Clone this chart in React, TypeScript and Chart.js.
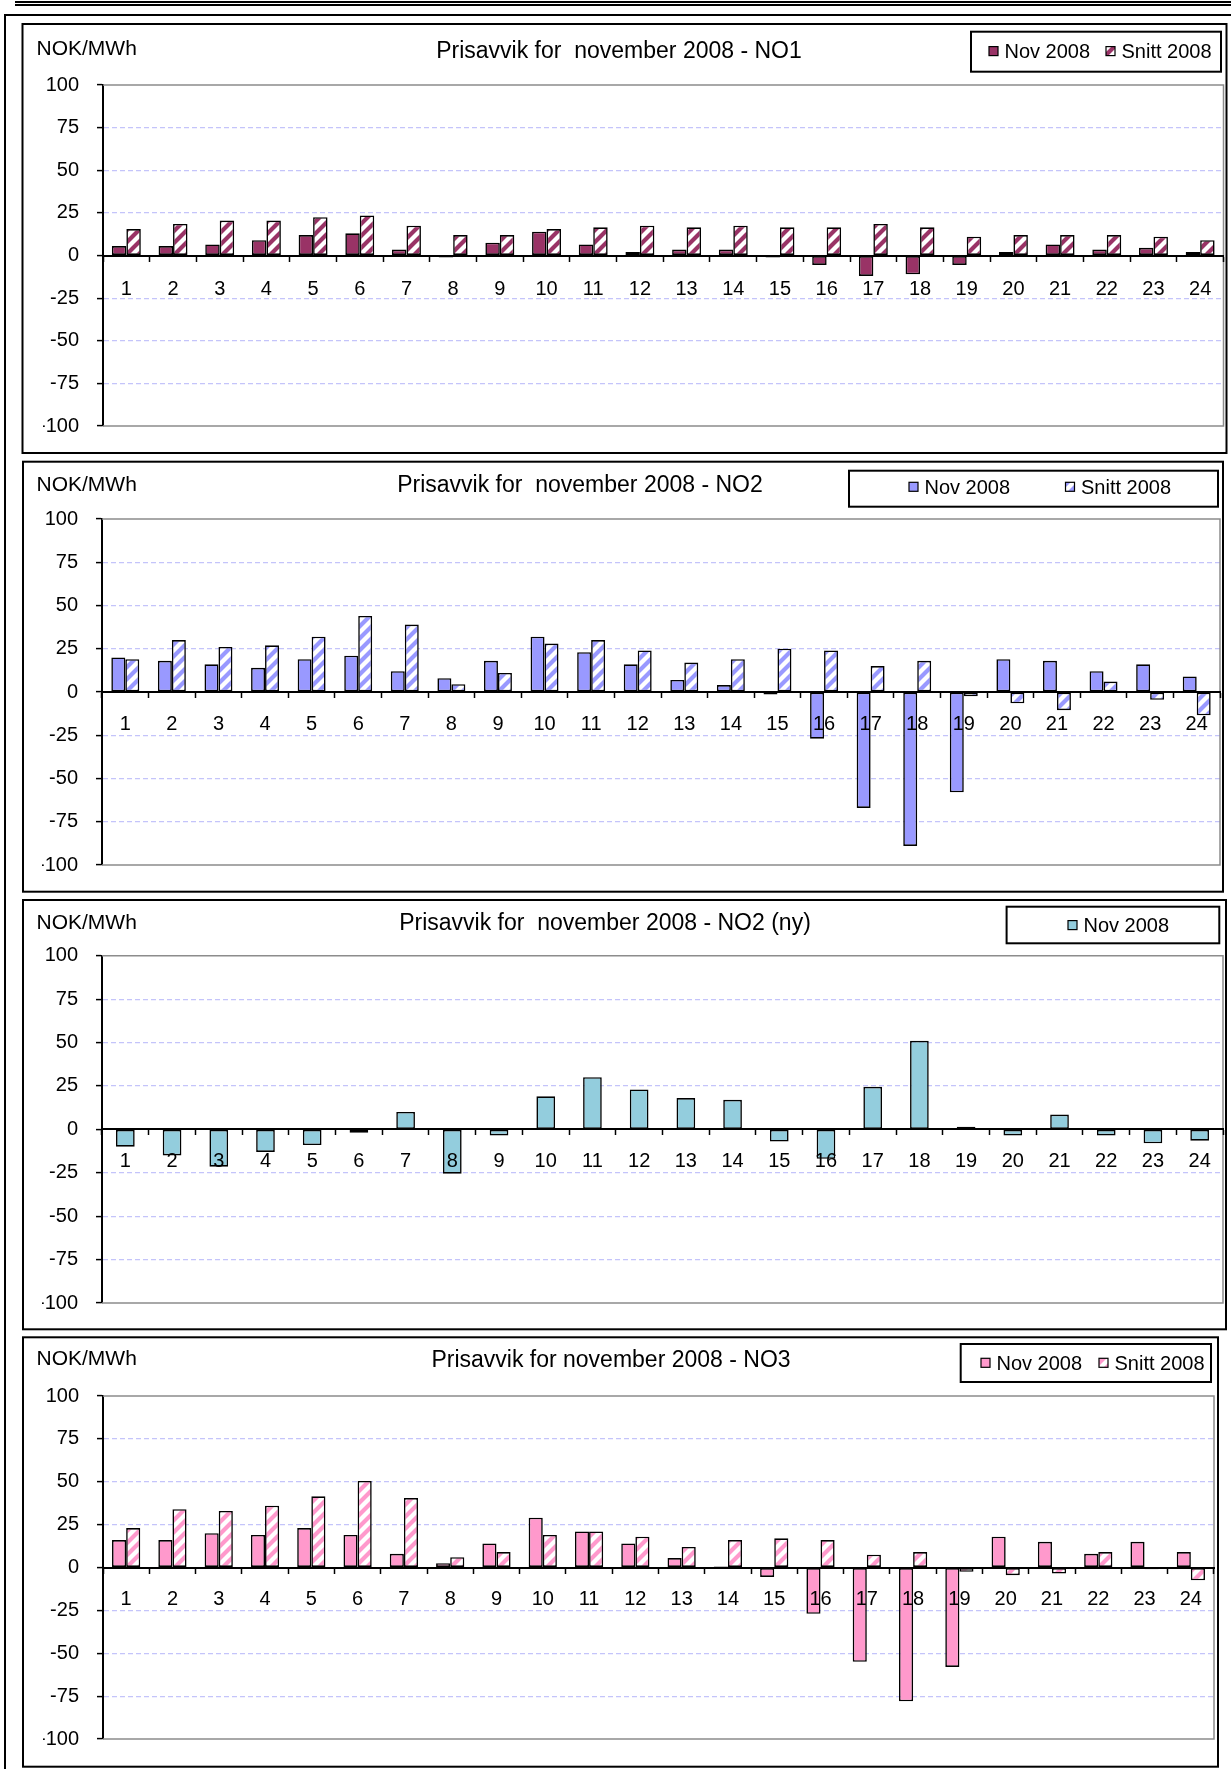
import React, { useEffect, useRef } from 'react';
import { Chart, registerables } from 'chart.js';

Chart.register(...registerables);

const FONT = "'Liberation Sans', Arial, Helvetica, sans-serif";

// ---------- data ----------
const hours = ['1', '2', '3', '4', '5', '6', '7', '8', '9', '10', '11', '12', '13', '14', '15', '16', '17', '18', '19', '20', '21', '22', '23', '24'];
const yTickValues = [-100, -75, -50, -25, 0, 25, 50, 75, 100];
const yTickLabels = ['-100', '-75', '-50', '-25', '0', '25', '50', '75', '100'];
const unitLabel = 'NOK/MWh';
const legendNov = 'Nov 2008';
const legendSnitt = 'Snitt 2008';

const titleNO1 = 'Prisavvik for  november 2008 - NO1';
const titleNO2 = 'Prisavvik for  november 2008 - NO2';
const titleNO2ny = 'Prisavvik for  november 2008 - NO2 (ny)';
const titleNO3 = 'Prisavvik for november 2008 - NO3';

const no1Nov = [5.5, 5.5, 6.5, 9, 12, 13, 3.5, -1.2, 7.5, 14, 6.5, 2, 3.5, 3.5, -1.2, -5.5, -12, -11, -5.5, 2, 6.5, 3.5, 4.5, 2];
const no1Snitt = [15.5, 18.5, 20.5, 20.5, 22.5, 23.5, 17.5, 12, 12, 15.5, 16.5, 17.5, 16.5, 17.5, 16.5, 16.5, 18.5, 16.5, 11, 12, 12, 12, 11, 9];

const no2Nov = [20, 18, 16, 14, 19, 21, 12, 8, 18, 32, 23, 16, 7, 4, -1.5, -27, -67, -89, -58, 19, 18, 12, 16, 9];
const no2Snitt = [19, 30, 26, 27, 32, 44, 39, 4.5, 11, 28, 30, 24, 17, 19, 25, 24, 15, 18, -2.5, -6.5, -10.5, 6, -4.5, -13.5];

const no2nyNov = [-10, -15, -21.5, -13, -9, -2, 10, -25.5, -3.5, 19, 30, 23, 18, 17, -7, -17, 24.5, 51, 1.5, -3.5, 8.5, -3.5, -8, -6.5];

const no3Nov = [16, 16, 20, 19, 23, 19, 8, 2.5, 14, 29, 21, 14, 5.5, 0.6, -5.5, -27, -55, -78, -58, 18, 15, 8, 15, 9];
const no3Snitt = [23, 34, 33, 36, 41.5, 50.5, 40.5, 6, 9, 19, 21, 18, 12, 16, 17, 16, 7.5, 9, -2.5, -4.5, -3.5, 9, -1, -7.5];

// ---------- styles ----------
const plum = '#993366';
const periwinkle = '#9999ff';
const aqua = '#93cddd';
const pink = '#ff99cc';

type SeriesSpec = { label: string; data: number[]; color: string; hatched: boolean };
type PanelSpec = {
  title: string;
  titleX: number;
  titleBase: number;
  unitBase: number;
  box: number[];
  plot: number[];
  legend: number[];
  legendItems: number[];
  legendBase: number;
  catPct: number;
  labelPad: number;
  series: SeriesSpec[];
};

const panels: PanelSpec[] = [
  {
    title: titleNO1, titleX: 619, titleBase: 58.3, unitBase: 55,
    box: [22.5, 24, 1226.5, 453], plot: [103, 85, 1223.5, 427.7],
    legend: [971, 31.7, 1221, 71.7], legendItems: [989, 1106], legendBase: 58.3,
    catPct: 0.62, labelPad: 17,
    series: [
      { label: legendNov, data: no1Nov, color: plum, hatched: false },
      { label: legendSnitt, data: no1Snitt, color: plum, hatched: true },
    ],
  },
  {
    title: titleNO2, titleX: 580, titleBase: 491.7, unitBase: 490.7,
    box: [23, 461.7, 1223, 891.7], plot: [102, 519, 1220, 866.7],
    legend: [849, 470.7, 1218, 506.7], legendItems: [909, 1065.5], legendBase: 494,
    catPct: 0.6, labelPad: 15,
    series: [
      { label: legendNov, data: no2Nov, color: periwinkle, hatched: false },
      { label: legendSnitt, data: no2Snitt, color: periwinkle, hatched: true },
    ],
  },
  {
    title: titleNO2ny, titleX: 605, titleBase: 930, unitBase: 929,
    box: [23, 900, 1226, 1329.3], plot: [102, 955.7, 1223, 1316.7],
    legend: [1006.6, 906.7, 1219.3, 943.3], legendItems: [1068], legendBase: 932.3,
    catPct: 0.4, labelPad: 15,
    series: [{ label: legendNov, data: no2nyNov, color: aqua, hatched: false }],
  },
  {
    title: titleNO3, titleX: 611, titleBase: 1367.3, unitBase: 1365,
    box: [23, 1337.3, 1218, 1766.7], plot: [103, 1396, 1214, 1743.3],
    legend: [960.7, 1344, 1211, 1382], legendItems: [981, 1099], legendBase: 1370,
    catPct: 0.61, labelPad: 15,
    series: [
      { label: legendNov, data: no3Nov, color: pink, hatched: false },
      { label: legendSnitt, data: no3Snitt, color: pink, hatched: true },
    ],
  },
];

function makeHatch(ctx: CanvasRenderingContext2D, color: string): CanvasPattern | string {
  const s = 12;
  const c = document.createElement('canvas');
  c.width = s;
  c.height = s;
  const g = c.getContext('2d');
  if (!g) return color;
  g.fillStyle = '#ffffff';
  g.fillRect(0, 0, s, s);
  g.strokeStyle = color;
  g.lineWidth = 4.2;
  g.beginPath();
  g.moveTo(-4, s + 4);
  g.lineTo(s + 4, -4);
  g.moveTo(-4, 4);
  g.lineTo(4, -4);
  g.moveTo(s - 4, s + 4);
  g.lineTo(s + 4, s - 4);
  g.stroke();
  return ctx.createPattern(c, 'repeat') || color;
}

const PAGE_W = 1231;
const PAGE_H = 1769;
const YW = 60;

function Panel({ spec }: { spec: PanelSpec }) {
  const ref = useRef<HTMLCanvasElement | null>(null);
  const top = Math.floor(spec.box[1]) - 3;
  const bottom = Math.min(Math.ceil(spec.box[3]) + 3, PAGE_H);
  const height = bottom - top;

  useEffect(() => {
    const canvas = ref.current;
    if (!canvas) return;
    const ctx = canvas.getContext('2d');
    if (!ctx) return;
    const oy = top;
    const [bl, bt, br, bb] = spec.box;
    const [pl, pt, pr, pb] = spec.plot;
    const fills = spec.series.map((s) => (s.hatched ? makeHatch(ctx, s.color) : s.color));

    const decor = {
      id: 'decor',
      beforeDraw(chart: any) {
        const c = chart.ctx;
        c.save();
        c.fillStyle = '#ffffff';
        c.fillRect(bl, bt - oy, br - bl, bb - bt);
        c.restore();
      },
      beforeDatasetsDraw(chart: any) {
        const { left, top: t, right, bottom: b } = chart.chartArea;
        const c = chart.ctx;
        c.save();
        c.strokeStyle = '#8c8c8c';
        c.lineWidth = 1.5;
        c.beginPath();
        c.moveTo(left, t);
        c.lineTo(right, t);
        c.lineTo(right, b);
        c.lineTo(left, b);
        c.stroke();
        c.restore();
      },
      afterDraw(chart: any) {
        const c = chart.ctx;
        c.save();
        c.strokeStyle = '#000';
        c.lineWidth = 2;
        c.strokeRect(bl, bt - oy, br - bl, bb - bt);
        c.fillStyle = '#000';
        c.textBaseline = 'alphabetic';
        c.textAlign = 'left';
        c.font = `21px ${FONT}`;
        c.fillText(unitLabel, 36.5, spec.unitBase - oy);
        c.textAlign = 'center';
        c.font = `23px ${FONT}`;
        c.fillText(spec.title, spec.titleX, spec.titleBase - oy);
        const [ll, lt, lr, lb] = spec.legend;
        c.lineWidth = 2;
        c.strokeStyle = '#000';
        c.strokeRect(ll, lt - oy, lr - ll, lb - lt);
        c.font = `20px ${FONT}`;
        c.textAlign = 'left';
        chart.data.datasets.forEach((ds: any, i: number) => {
          const sx = spec.legendItems[i];
          const sy = spec.legendBase - 7.2 - 4.5 - oy;
          c.fillStyle = ds.backgroundColor;
          c.fillRect(sx, sy, 9, 9);
          c.strokeStyle = '#000';
          c.lineWidth = 1.2;
          c.strokeRect(sx, sy, 9, 9);
          c.fillStyle = '#000';
          c.fillText(ds.label, sx + 15.5, spec.legendBase - oy);
        });
        c.restore();
      },
    };

    const chart = new Chart(ctx, {
      type: 'bar',
      data: {
        labels: hours,
        datasets: spec.series.map((s, i) => ({
          label: s.label,
          data: s.data,
          backgroundColor: fills[i] as any,
          borderColor: '#000',
          borderWidth: 1.6,
          borderSkipped: false,
          barPercentage: 1,
          categoryPercentage: spec.catPct,
        })),
      },
      options: {
        responsive: false,
        animation: false,
        devicePixelRatio: 1,
        layout: {
          padding: { left: pl - YW, right: PAGE_W - pr, top: pt - oy, bottom: bottom - pb },
        },
        plugins: {
          legend: { display: false },
          title: { display: false },
          tooltip: { enabled: false },
        },
        scales: {
          x: {
            type: 'category',
            position: { y: 0 } as any,
            offset: true,
            grid: {
              display: true,
              offset: true,
              drawOnChartArea: false,
              drawTicks: true,
              tickLength: 5,
              tickColor: '#000',
              tickWidth: 1.5,
              color: '#000',
              z: 1,
            },
            border: { display: true, color: '#000', width: 2, z: 1 },
            ticks: {
              color: '#000',
              font: { family: FONT, size: 20 },
              padding: spec.labelPad,
              maxRotation: 0,
              minRotation: 0,
              autoSkip: false,
              z: 1,
            },
          },
          y: {
            position: 'left',
            min: -100,
            max: 100,
            afterFit: (s: any) => {
              s.width = YW;
            },
            afterBuildTicks: (s: any) => {
              s.ticks = yTickValues.map((v) => ({ value: v }));
            },
            grid: {
              color: (c: any) =>
                c.tick && (c.tick.value === 0 || Math.abs(c.tick.value) === 100) ? 'rgba(0,0,0,0)' : '#c4c4fa',
              lineWidth: 1.2,
              drawTicks: true,
              tickLength: 6,
              tickColor: '#000',
              tickWidth: 1.5,
            },
            border: { display: true, color: '#000', width: 2, dash: [5, 3] },
            ticks: {
              color: '#000',
              font: { family: FONT, size: 20 },
              padding: 18,
              callback: (v: any) => {
                const idx = yTickValues.indexOf(Number(v));
                return idx >= 0 ? yTickLabels[idx] : String(v);
              },
            },
          },
        },
      } as any,
      plugins: [decor],
    });
    return () => chart.destroy();
  }, []);

  return (
    <canvas
      ref={ref}
      width={PAGE_W}
      height={height}
      style={{ position: 'absolute', left: 0, top, width: PAGE_W, height, display: 'block' }}
    />
  );
}

export default function App() {
  const line = (left: number, top: number, width: number, height: number) => (
    <div style={{ position: 'absolute', left, top, width, height, background: '#000' }} />
  );
  return (
    <div
      style={{
        position: 'absolute',
        left: 0,
        top: 0,
        width: PAGE_W,
        height: PAGE_H,
        background: '#fff',
        overflow: 'hidden',
      }}
    >
      {line(15, 1, PAGE_W - 15, 2)}
      {line(15, 4, PAGE_W - 15, 2)}
      {line(4, 14, PAGE_W - 4, 2)}
      {line(4, 14, 2, PAGE_H - 14)}
      {panels.map((p, i) => (
        <Panel key={i} spec={p} />
      ))}
    </div>
  );
}
